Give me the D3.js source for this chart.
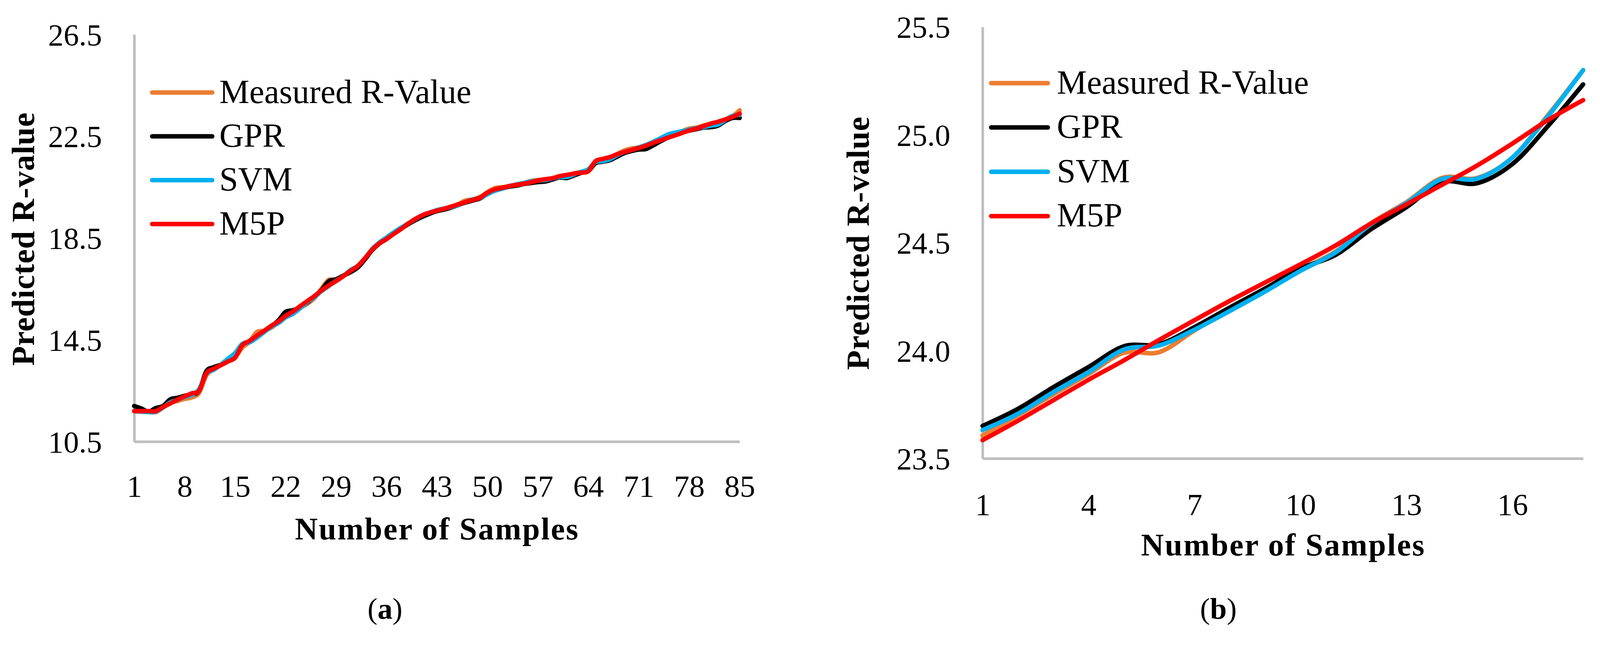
<!DOCTYPE html>
<html>
<head>
<meta charset="utf-8">
<script src="https://cdn.jsdelivr.net/npm/d3@7/dist/d3.min.js"></script>
<style>
  html, body { margin: 0; padding: 0; background: #fff; overflow: hidden; }
  #fig { display: block; width: 100vw; height: 100vh; }
  svg text { font-family: 'Liberation Serif', 'Times New Roman', serif; fill: #000; }
</style>
</head>
<body>
<svg id="fig" viewBox="0 0 4268 1696" preserveAspectRatio="xMinYMin meet"></svg>
<script>
const seriesNames = ['Measured R-Value', 'GPR', 'SVM', 'M5P'];
const seriesColors = ['#ED7D31', '#000000', '#00B0F0', '#FF0000'];

// panel (a): 85 samples
const samplesA = d3.range(1, 86);
const xTicksA = [1, 8, 15, 22, 29, 36, 43, 50, 57, 64, 71, 78, 85];
const yTicksA = [10.5, 14.5, 18.5, 22.5, 26.5];
const measuredA = [11.70, 11.68, 11.68, 11.66, 11.84, 12.02, 12.10, 12.18, 12.24, 12.42,
  13.10, 13.34, 13.52, 13.66, 13.82, 14.20, 14.42, 14.80, 14.86, 14.98,
  15.18, 15.42, 15.60, 15.76, 15.92, 16.14, 16.52, 16.86, 16.84, 17.02,
  17.20, 17.36, 17.66, 18.06, 18.30, 18.48, 18.68, 18.88, 19.08, 19.22,
  19.38, 19.48, 19.56, 19.64, 19.72, 19.84, 19.98, 20.02, 20.12, 20.30,
  20.46, 20.50, 20.52, 20.60, 20.66, 20.74, 20.78, 20.80, 20.84, 20.92,
  20.96, 21.04, 21.10, 21.12, 21.48, 21.58, 21.66, 21.80, 21.94, 22.02,
  22.06, 22.12, 22.24, 22.36, 22.46, 22.56, 22.70, 22.80, 22.84, 22.92,
  22.98, 23.06, 23.14, 23.28, 23.52];
const gprA = [11.90, 11.80, 11.68, 11.82, 11.90, 12.16, 12.22, 12.30, 12.36, 12.50,
  13.26, 13.42, 13.52, 13.66, 13.86, 14.32, 14.44, 14.62, 14.82, 15.02,
  15.26, 15.60, 15.66, 15.78, 15.96, 16.20, 16.46, 16.80, 16.88, 17.02,
  17.16, 17.34, 17.66, 18.02, 18.28, 18.46, 18.68, 18.86, 19.04, 19.20,
  19.34, 19.46, 19.56, 19.62, 19.70, 19.80, 19.90, 19.98, 20.06, 20.24,
  20.36, 20.44, 20.52, 20.56, 20.62, 20.66, 20.70, 20.72, 20.80, 20.88,
  20.86, 20.96, 21.06, 21.14, 21.44, 21.50, 21.56, 21.70, 21.84, 21.92,
  21.98, 22.00, 22.14, 22.30, 22.44, 22.56, 22.64, 22.72, 22.78, 22.84,
  22.86, 22.92, 23.10, 23.22, 23.22];
const svmA = [11.70, 11.68, 11.66, 11.68, 11.84, 12.04, 12.14, 12.26, 12.34, 12.56,
  13.16, 13.32, 13.52, 13.76, 13.98, 14.34, 14.40, 14.58, 14.80, 15.02,
  15.16, 15.38, 15.52, 15.74, 15.98, 16.18, 16.42, 16.62, 16.82, 17.00,
  17.24, 17.40, 17.70, 18.06, 18.32, 18.52, 18.72, 18.90, 19.06, 19.24,
  19.40, 19.50, 19.60, 19.66, 19.72, 19.80, 19.92, 20.02, 20.08, 20.22,
  20.36, 20.44, 20.54, 20.60, 20.66, 20.72, 20.76, 20.78, 20.84, 20.90,
  20.90, 21.00, 21.10, 21.20, 21.48, 21.52, 21.60, 21.76, 21.88, 21.96,
  22.06, 22.16, 22.28, 22.42, 22.56, 22.64, 22.70, 22.76, 22.82, 22.86,
  22.92, 22.96, 23.14, 23.30, 23.34];
const m5pA = [11.70, 11.70, 11.70, 11.70, 11.86, 12.00, 12.15, 12.28, 12.40, 12.50,
  13.18, 13.36, 13.50, 13.65, 13.80, 14.29, 14.46, 14.66, 14.85, 15.05,
  15.22, 15.44, 15.61, 15.82, 16.02, 16.22, 16.44, 16.64, 16.81, 17.00,
  17.21, 17.40, 17.70, 18.04, 18.29, 18.46, 18.66, 18.85, 19.06, 19.25,
  19.40, 19.50, 19.58, 19.65, 19.74, 19.82, 19.92, 20.00, 20.09, 20.28,
  20.41, 20.47, 20.54, 20.59, 20.63, 20.69, 20.76, 20.81, 20.85, 20.93,
  20.98, 21.03, 21.07, 21.13, 21.52, 21.61, 21.68, 21.79, 21.88, 21.96,
  22.04, 22.13, 22.24, 22.34, 22.44, 22.53, 22.63, 22.73, 22.80, 22.90,
  23.00, 23.07, 23.16, 23.26, 23.39];

// panel (b): 18 samples
const samplesB = d3.range(1, 19);
const xTicksB = [1, 4, 7, 10, 13, 16];
const yTicksB = [23.5, 24.0, 24.5, 25.0, 25.5];
const measuredB = [23.606, 23.700, 23.797, 23.892, 23.990, 23.993, 24.094, 24.190, 24.280,
  24.375, 24.460, 24.590, 24.688, 24.800, 24.800, 24.895, 25.090, 25.300];
const gprB = [23.651, 23.730, 23.830, 23.924, 24.020, 24.030, 24.109, 24.200, 24.288,
  24.380, 24.444, 24.563, 24.665, 24.780, 24.776, 24.865, 25.040, 25.234];
const svmB = [23.632, 23.707, 23.807, 23.900, 24.005, 24.024, 24.097, 24.184, 24.274,
  24.370, 24.456, 24.587, 24.684, 24.795, 24.797, 24.895, 25.085, 25.300];
const m5pB = [23.585, 23.675, 23.770, 23.865, 23.955, 24.050, 24.141, 24.231, 24.316,
  24.400, 24.488, 24.590, 24.678, 24.768, 24.858, 24.960, 25.068, 25.161];

/**
 * LinePanel draws one Excel-like smoothed line chart with its inner legend
 */
class LinePanel {
  /**
   * @param {object} options placement, domains, ticks and series of the panel
   */
  constructor(options) {
    this.options = options;
    this.g = d3.select('#fig').append('g');
    this.x = d3.scaleLinear()
      .domain(d3.extent(options.samples))
      .range([options.left, options.right]);
    this.y = d3.scaleLinear()
      .domain(options.yDomain)
      .range([options.bottom, options.top]);
    this.initAxes();
    this.initLines();
    this.initLegend();
    this.initTitles();
  }
  /**
  * Grey axis lines with serif tick labels, no tick marks
  */
  initAxes() {
    let o = this.options;
    let yAxis = this.g.append('g')
      .attr('transform', 'translate(' + o.left + ',0)')
      .call(d3.axisLeft(this.y).tickValues(o.yTicks).tickSize(0)
        .tickFormat(d3.format('.1f')));
    yAxis.selectAll('text')
      .attr('x', -86)
      .attr('dy', '0.34em')
      .style('font-size', '82px');

    let xAxis = this.g.append('g')
      .attr('transform', 'translate(0,' + o.bottom + ')')
      .call(d3.axisBottom(this.x).tickValues(o.xTicks).tickSize(0)
        .tickFormat(d3.format('d')));
    xAxis.selectAll('text')
      .attr('y', o.xLabelOffset)
      .attr('dy', '0.34em')
      .style('font-size', '82px');

    this.g.selectAll('.domain')
      .attr('stroke', '#BFBFBF')
      .attr('stroke-width', 7);
  }
  /**
  * Series lines, drawn in the legend order so M5P ends up on top
  */
  initLines() {
    let _this = this;
    let line = d3.line()
      .x(function(d) { return _this.x(d[0]); })
      .y(function(d) { return _this.y(d[1]); })
      .curve(d3.curveCardinal.tension(0));
    this.g.selectAll('path.series')
      .data(this.options.series)
      .enter()
      .append('path')
      .attr('class', 'series')
      .attr('d', function(values) {
        return line(values.map(function(v, i) {
          return [_this.options.samples[i], v];
        }));
      })
      .attr('fill', 'none')
      .attr('stroke', function(d, i) { return seriesColors[i]; })
      .attr('stroke-width', 12)
      .attr('stroke-linecap', 'round')
      .attr('stroke-linejoin', 'round');
  }
  /**
  * Legend inside the plot area, top left
  */
  initLegend() {
    let lg = this.options.legend;
    let items = this.g.selectAll('g.legend')
      .data(seriesNames)
      .enter()
      .append('g')
      .attr('class', 'legend')
      .attr('transform', function(d, i) {
        return 'translate(0,' + (lg.top + i * lg.step) + ')';
      });
    items.append('line')
      .attr('x1', lg.x0).attr('x2', lg.x1)
      .attr('stroke', function(d, i) { return seriesColors[i]; })
      .attr('stroke-width', 12)
      .attr('stroke-linecap', 'round');
    items.append('text')
      .attr('x', lg.textX)
      .attr('dy', '0.31em')
      .style('font-size', '90px')
      .text(function(d) { return d; });
  }
  /**
  * Axis titles and the (a)/(b) caption
  */
  initTitles() {
    let o = this.options;
    this.g.append('text')
      .attr('transform', 'translate(' + o.yTitle[0] + ',' + o.yTitle[1] +
        ') rotate(-90)')
      .attr('text-anchor', 'middle')
      .attr('dy', '0.34em')
      .style('font-size', '86px')
      .style('font-weight', 'bold')
      .style('letter-spacing', '1px')
      .text('Predicted R-value');
    this.g.append('text')
      .attr('x', o.xTitle[0])
      .attr('y', o.xTitle[1])
      .attr('text-anchor', 'middle')
      .style('font-size', '84px')
      .style('font-weight', 'bold')
      .style('letter-spacing', '3px')
      .text('Number of Samples');
    let cap = this.g.append('text')
      .attr('x', o.caption[0])
      .attr('y', o.caption[1])
      .attr('text-anchor', 'middle')
      .style('font-size', '80px');
    cap.append('tspan').text('(');
    cap.append('tspan').style('font-weight', 'bold').text(o.label);
    cap.append('tspan').text(')');
  }
}

new LinePanel({
  samples: samplesA, xTicks: xTicksA, yTicks: yTicksA, yDomain: [10.5, 26.5],
  series: [measuredA, gprA, svmA, m5pA],
  left: 358, right: 1973, top: 92, bottom: 1179, xLabelOffset: 119,
  legend: {x0: 406, x1: 566, textX: 585, top: 247, step: 117},
  yTitle: [61, 638], xTitle: [1166, 1440], caption: [1027, 1652], label: 'a',
});

new LinePanel({
  samples: samplesB, xTicks: xTicksB, yTicks: yTicksB, yDomain: [23.5, 25.5],
  series: [measuredB, gprB, svmB, m5pB],
  left: 2621, right: 4223, top: 72, bottom: 1224, xLabelOffset: 123,
  legend: {x0: 2644, x1: 2795, textX: 2819, top: 222, step: 118.3},
  yTitle: [2288, 649], xTitle: [3423, 1483], caption: [3250, 1652], label: 'b',
});
</script>
</body>
</html>
